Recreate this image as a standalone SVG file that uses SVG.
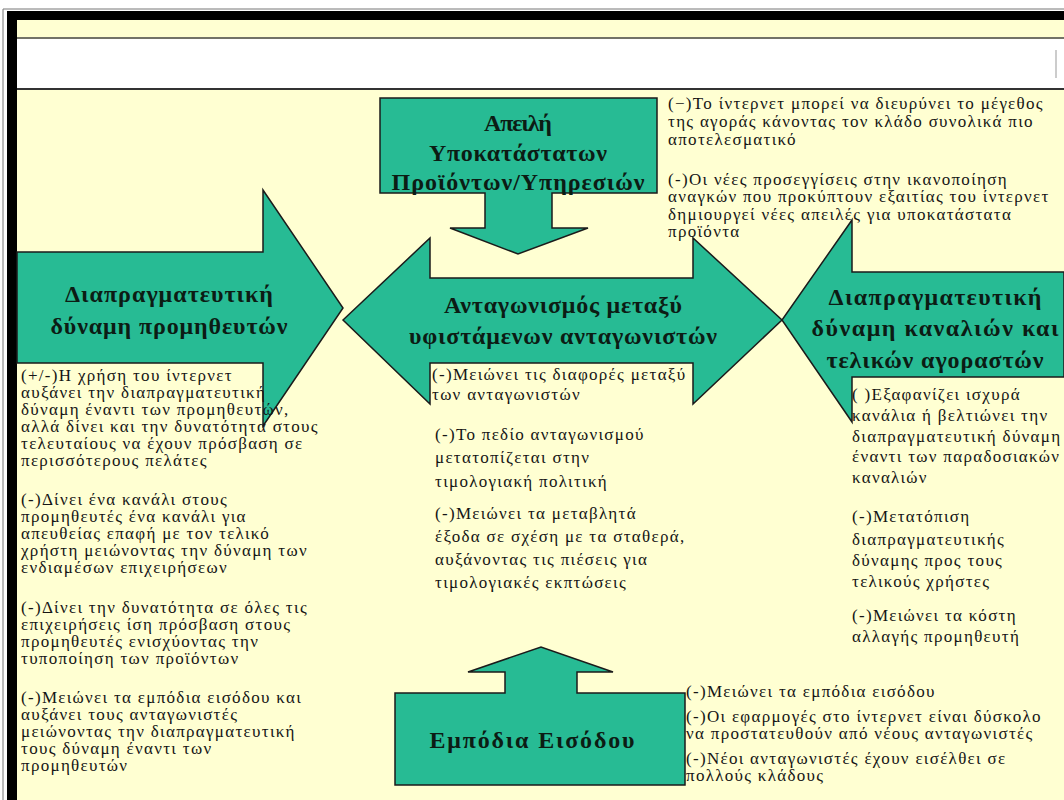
<svg xmlns="http://www.w3.org/2000/svg" width="1064" height="800" viewBox="0 0 1064 800">
<style>
.bg{fill:#FFFFD2}
.shape{fill:#27BB94;stroke:#1b1b1b;stroke-width:1.5;stroke-linejoin:miter}
.lbl{font-family:"Liberation Serif","DejaVu Serif",serif;font-weight:bold;font-size:24px;fill:#0c1c14;text-anchor:middle}
.txt{font-family:"Liberation Serif","DejaVu Serif",serif;font-size:17px;letter-spacing:1.3px;fill:#151515}
</style>
<rect x="0" y="0" width="1064" height="800" fill="#ffffff"/>
<rect class="bg" x="17" y="20" width="1047" height="780"/>
<g id="frame">
<line x1="3" y1="9" x2="1064" y2="9" stroke="#777" stroke-width="1"/>
<line x1="3" y1="9" x2="3" y2="800" stroke="#777" stroke-width="1"/>
<rect x="7" y="11" width="1057" height="9" fill="#000"/>
<rect x="7" y="11" width="10" height="789" fill="#000"/>
<rect x="17" y="39" width="1047" height="49" fill="#ffffff"/>
<line x1="17" y1="38" x2="1064" y2="38" stroke="#444" stroke-width="1.5"/>
<line x1="17" y1="89" x2="1064" y2="89" stroke="#333" stroke-width="2"/>
<line x1="1056" y1="50" x2="1056" y2="78" stroke="#999" stroke-width="1"/>
</g>
<g id="connectors"></g>
<g id="node-threat">
<polygon class="shape" points="380,98 657,98 657,193 552,193 552,228 588,228 518,254 450,228 485,228 485,193 380,193"/>
<text class="lbl" x="518" y="131" textLength="68" lengthAdjust="spacing">Απειλή</text>
<text class="lbl" x="518" y="161" textLength="178" lengthAdjust="spacing">Υποκατάστατων</text>
<text class="lbl" x="518" y="190" textLength="253" lengthAdjust="spacing">Προϊόντων/Υπηρεσιών</text>
</g>
<g id="node-suppliers">
<polygon class="shape" points="17,252 263,252 263,190 343,308 263,426 263,363 17,363"/>
<text class="lbl" x="169" y="302" textLength="208" lengthAdjust="spacing">Διαπραγματευτική</text>
<text class="lbl" x="169" y="334" textLength="237" lengthAdjust="spacing">δύναμη προμηθευτών</text>
</g>
<g id="node-rivalry">
<polygon class="shape" points="343,320 430,238 430,278 693,278 693,238 782,320 693,404 693,363 430,363 430,404"/>
<text class="lbl" x="563" y="313" textLength="238" lengthAdjust="spacing">Ανταγωνισμός μεταξύ</text>
<text class="lbl" x="563" y="344" textLength="308" lengthAdjust="spacing">υφιστάμενων ανταγωνιστών</text>
</g>
<g id="node-buyers">
<polygon class="shape" points="1064,272 852,272 852,220 782,320 852,422 852,377 1064,377"/>
<text class="lbl" x="935" y="305" textLength="213" lengthAdjust="spacing">Διαπραγματευτική</text>
<text class="lbl" x="935" y="336" textLength="247" lengthAdjust="spacing">δύναμη καναλιών και</text>
<text class="lbl" x="935" y="368" textLength="217" lengthAdjust="spacing">τελικών αγοραστών</text>
</g>
<g id="node-entry">
<polygon class="shape" points="395,693 505,693 505,672 468,672 541,647 613,672 577,672 577,693 685,693 685,785 395,785"/>
<text class="lbl" x="532" y="748" textLength="205" lengthAdjust="spacing">Εμπόδια Εισόδου</text>
</g>
<g id="text-threat">
<text class="txt" x="668" y="109">(−)Το ίντερνετ μπορεί να διευρύνει το μέγεθος</text>
<text class="txt" x="668" y="127">της αγοράς κάνοντας τον κλάδο συνολικά πιο</text>
<text class="txt" x="668" y="145">αποτελεσματικό</text>
<text class="txt" x="668" y="185">(-)Οι νέες προσεγγίσεις στην ικανοποίηση</text>
<text class="txt" x="668" y="202">αναγκών που προκύπτουν εξαιτίας του ίντερνετ</text>
<text class="txt" x="668" y="220">δημιουργεί νέες απειλές για υποκατάστατα</text>
<text class="txt" x="668" y="237">προϊόντα</text>
</g>
<g id="text-suppliers">
<text class="txt" x="21" y="381">(+/-)Η χρήση του ίντερνετ</text>
<text class="txt" x="21" y="398">αυξάνει την διαπραγματευτική</text>
<text class="txt" x="21" y="415">δύναμη έναντι των προμηθευτών,</text>
<text class="txt" x="21" y="432">αλλά δίνει και την δυνατότητα στους</text>
<text class="txt" x="21" y="449">τελευταίους να έχουν πρόσβαση σε</text>
<text class="txt" x="21" y="466">περισσότερους πελάτες</text>
<text class="txt" x="21" y="505">(-)Δίνει ένα κανάλι στους</text>
<text class="txt" x="21" y="522">προμηθευτές ένα κανάλι για</text>
<text class="txt" x="21" y="539">απευθείας επαφή με τον τελικό</text>
<text class="txt" x="21" y="556">χρήστη μειώνοντας την δύναμη των</text>
<text class="txt" x="21" y="573">ενδιαμέσων επιχειρήσεων</text>
<text class="txt" x="21" y="613">(-)Δίνει την δυνατότητα σε όλες τις</text>
<text class="txt" x="21" y="630">επιχειρήσεις ίση πρόσβαση στους</text>
<text class="txt" x="21" y="647">προμηθευτές ενισχύοντας την</text>
<text class="txt" x="21" y="664">τυποποίηση των προϊόντων</text>
<text class="txt" x="21" y="703">(-)Μειώνει τα εμπόδια εισόδου και</text>
<text class="txt" x="21" y="720">αυξάνει τους ανταγωνιστές</text>
<text class="txt" x="21" y="737">μειώνοντας την διαπραγματευτική</text>
<text class="txt" x="21" y="754">τους δύναμη έναντι των</text>
<text class="txt" x="21" y="771">προμηθευτών</text>
</g>
<g id="text-rivalry">
<text class="txt" x="432" y="380">(-)Μειώνει τις διαφορές μεταξύ</text>
<text class="txt" x="432" y="400">των ανταγωνιστών</text>
<text class="txt" x="435" y="440">(-)Το πεδίο ανταγωνισμού</text>
<text class="txt" x="435" y="463">μετατοπίζεται στην</text>
<text class="txt" x="435" y="487">τιμολογιακή πολιτική</text>
<text class="txt" x="435" y="519">(-)Μειώνει τα μεταβλητά</text>
<text class="txt" x="435" y="542">έξοδα σε σχέση με τα σταθερά,</text>
<text class="txt" x="435" y="565">αυξάνοντας τις πιέσεις για</text>
<text class="txt" x="435" y="588">τιμολογιακές εκπτώσεις</text>
</g>
<g id="text-buyers">
<text class="txt" x="852" y="400">( )Εξαφανίζει ισχυρά</text>
<text class="txt" x="852" y="421">κανάλια ή βελτιώνει την</text>
<text class="txt" x="852" y="442">διαπραγματευτική δύναμη</text>
<text class="txt" x="852" y="462">έναντι των παραδοσιακών</text>
<text class="txt" x="852" y="483">καναλιών</text>
<text class="txt" x="852" y="522">(-)Μετατόπιση</text>
<text class="txt" x="852" y="545">διαπραγματευτικής</text>
<text class="txt" x="852" y="566">δύναμης προς τους</text>
<text class="txt" x="852" y="587">τελικούς χρήστες</text>
<text class="txt" x="852" y="621">(-)Μειώνει τα κόστη</text>
<text class="txt" x="852" y="642">αλλαγής προμηθευτή</text>
</g>
<g id="text-entry">
<text class="txt" x="686" y="697">(-)Μειώνει τα εμπόδια εισόδου</text>
<text class="txt" x="686" y="722">(-)Οι εφαρμογές στο ίντερνετ είναι δύσκολο</text>
<text class="txt" x="686" y="739">να προστατευθούν από νέους ανταγωνιστές</text>
<text class="txt" x="686" y="764">(-)Νέοι ανταγωνιστές έχουν εισέλθει σε</text>
<text class="txt" x="686" y="781">πολλούς κλάδους</text>
</g>
</svg>
